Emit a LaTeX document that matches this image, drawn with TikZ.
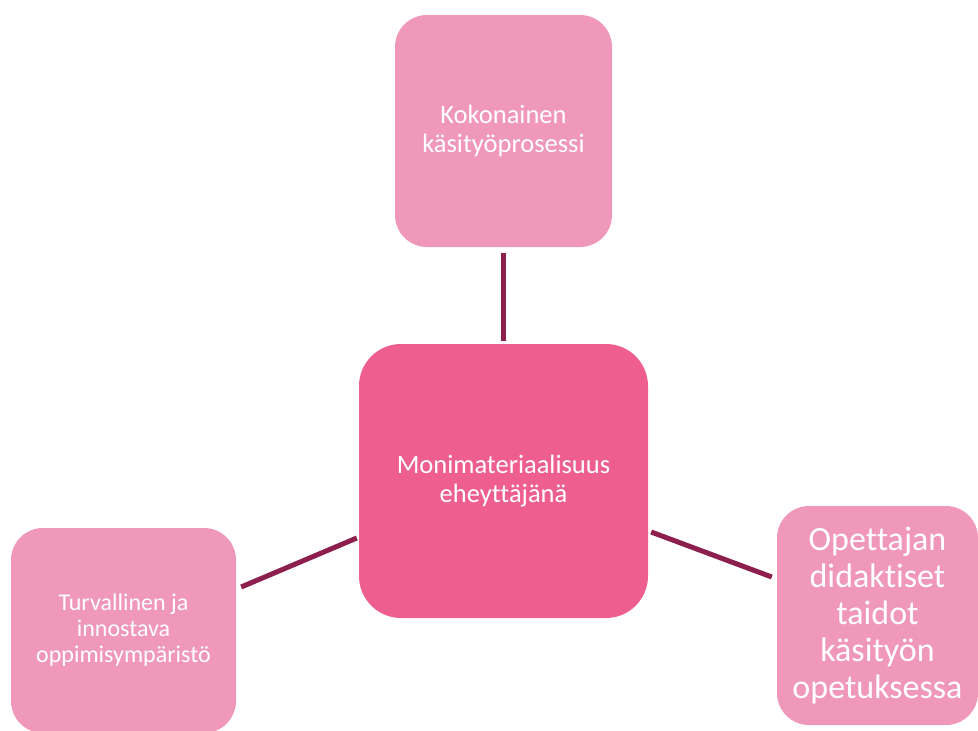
\documentclass[tikz,border=0pt]{standalone}
\usepackage{fontspec}
\setmainfont{Carlito}[Ligatures=NoCommon]
\definecolor{lightpink}{HTML}{EF98B9}
\definecolor{hotpink}{HTML}{EE5F8F}
\definecolor{plum}{HTML}{8C1F4E}
\begin{document}
\begin{tikzpicture}[x=1pt, y=-1pt,
        box/.style={shape=rectangle, fill=lightpink, text=white, align=center, inner sep=0pt, rounded corners=32pt},
        mainbox/.style={box, fill=hotpink, rounded corners=42pt},
        link/.style={draw=plum, line width=5pt}]
        \useasboundingbox (0,0) rectangle (978,731);
        \begin{scope}
        \clip (0,0) rectangle (978,731);
        \node[box, minimum width=217pt, minimum height=232pt, font=\fontsize{26.5}{29}\selectfont] (kok) at (503.5,131) {Kokonainen\\käsityöprosessi};
        \node[mainbox, minimum width=289pt, minimum height=274pt, font=\fontsize{26.5}{28.5}\selectfont] (mon) at (503.5,481) {Monimateriaalisuus\\eheyttäjänä};
        \node[box, minimum width=225pt, minimum height=205pt, font=\fontsize{24}{26}\selectfont] (tur) at (123.5,630.5) {Turvallinen ja\\innostava\\oppimisympäristö};
        \node[box, minimum width=201pt, minimum height=219pt, font=\fontsize{34}{37}\selectfont] (ope) at (877.5,615.5) {Opettajan\\didaktiset\\taidot\\käsityön\\opetuksessa};
        \end{scope}

        \draw[link, shorten <=6pt, shorten >=3pt] (kok) -- (mon);
        \draw[link] ([shift={(5pt,43.5pt)}]tur.east) -- ([shift={(-2pt,-57pt)}]mon.west);
        \draw[link] ([shift={(3pt,-51pt)}]mon.east) -- ([shift={(-5pt,38.5pt)}]ope.west);
    \end{tikzpicture}
\end{document}
